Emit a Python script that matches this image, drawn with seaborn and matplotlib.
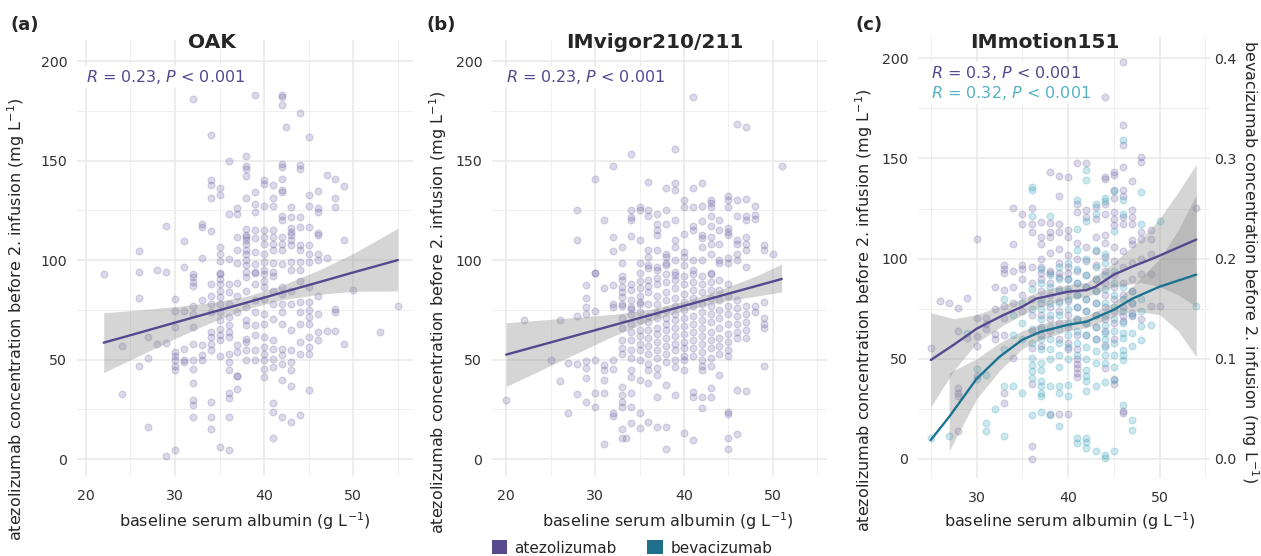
import pandas as pd
import matplotlib
matplotlib.use("Agg")
import matplotlib.pyplot as plt
import seaborn as sns
from matplotlib.patches import Patch

# ---------------- data ----------------
# albumin (g/L) -> atezolizumab trough concentrations (mg/L)
oak_points = {
    22: [93], 24: [56.7, 32.7], 26: [104.5, 94, 81, 47], 27: [61.3, 51, 16],
    28: [95, 57.7], 29: [117, 94, 58.3, 1.3],
    30: [80.5, 74.3, 66.3, 53.8, 51.7, 49.7, 47, 44.7, 4.7],
    31: [109.5, 96.7, 74.3, 55.5, 50, 49],
    32: [181, 93, 91.3, 88.8, 87, 76.7, 73, 66.3, 57.7, 50, 45.5, 38.3, 29.7, 27.2, 21],
    33: [118, 116.7, 100.8, 79.7, 57.2, 52.2, 49.7],
    34: [163, 140, 137.5, 131, 114.5, 88, 82.2, 78, 73.8, 63.8, 61.3, 58, 54.7, 28.8, 21, 15],
    35: [136, 132.5, 106.7, 103, 99.5, 93.7, 93, 90.5, 88, 84.7, 81.3, 78, 73.8, 69.7,
         65.5, 62.2, 59.7, 51.7, 6.3],
    36: [150, 123, 100.5, 88, 83.8, 78, 71.3, 67.2, 63.8, 61.3, 53, 48.8, 44.7, 33, 30.5, 21, 4.7],
    37: [126, 123, 111.7, 105, 98.7, 88.3, 82.2, 73.8, 57.2, 53.8, 42, 41.7, 35],
    38: [152.5, 147.5, 146, 142.5, 131, 115.8, 112.5, 111.7, 110, 108.3, 105, 103.3, 100,
         97.5, 94, 91.3, 84.7, 76.3, 69.7, 67.2, 60.5, 58.8, 54.7, 49.7],
    39: [183, 134, 128, 124, 115, 111, 104, 98, 94, 93.3, 88, 79.7, 73.8, 67.2, 62.2, 54.7, 49.7],
    40: [140, 138, 127, 115, 111.7, 108.3, 103.3, 99, 95, 93, 89.7, 86.3, 80.5, 73, 68,
         61.3, 56.3, 53, 49.7, 45.5, 41.3],
    41: [137.5, 131, 127, 115, 111.7, 108.3, 105, 98.3, 94, 92.2, 84.7, 78, 70.5, 59.7,
         55.5, 50.5, 46.3, 28.3, 23.8, 10.5],
    42: [183, 182, 178, 148.3, 146.7, 141, 135, 134, 122, 120, 111.7, 108, 105, 98, 86.3,
         83, 78, 73.8, 68, 55.5, 52.2, 48, 39.7, 21.3],
    42.5: [166.7],
    43: [126.7, 121.7, 116, 114, 112.5, 110, 107.5, 99, 95, 84.7, 78, 64.7, 54.7, 48.8,
         44.7, 36.7, 18.8],
    44: [174, 148, 146, 121.7, 116.7, 107.5, 105, 99, 95, 89.7, 78.8, 73.8, 68, 58.8, 53, 22.2],
    45: [162, 132.5, 127, 116.7, 107.5, 103, 99, 86.3, 78.8, 74.7, 71.3, 68, 61.3, 56.3, 52.7, 34.7],
    46: [134.5, 126, 124, 113.7, 112.5, 103, 100, 82.2, 73, 63.8, 59.7],
    47: [143, 101, 64.3], 48: [140.5, 131, 126.7, 75.5, 73.8, 64.3], 49: [137, 110, 58],
    50: [85], 53: [63.7], 55: [77],
}

imvigor_points = {
    20: [29.7], 22: [70], 25: [50], 26: [70, 39.3], 27: [48.3, 23.3],
    28: [125.3, 110.3, 71.7, 47.7, 32.7], 29: [87.7, 81, 76.3, 73, 49.3, 46, 40.5, 28.8],
    30: [141, 93.7, 93.3, 74.3, 50, 33, 26], 31: [120.3, 86, 47.2, 44.7, 39.7, 33.3, 7.7],
    32: [147.5, 111.7, 104.5, 87.7, 78, 76.3, 50, 45.5, 23, 21.7],
    33: [106.7, 98.3, 92.2, 90, 86.7, 84, 81.3, 78, 77, 71, 66, 60, 56, 53, 36.3, 32.2,
         28.8, 26, 15, 10.5],
    33.5: [10.5],
    34: [153.3, 125.3, 121.7, 120.3, 112, 88, 85, 80, 76.3, 75.5, 73, 68, 64, 60, 55, 51,
         44.7, 41.3, 33.3, 26.3, 18.3],
    35: [126.7, 125.3, 110.3, 98.7, 93.7, 89.7, 86, 82.2, 79, 78, 74, 70, 65, 62, 58, 55,
         50, 39.7, 23.3, 15.5],
    36: [139, 125.3, 122, 105, 101.7, 97.5, 95.8, 90, 87.2, 84, 78, 72, 69, 65, 61, 57,
         53, 48, 44.7, 38.3, 18.8],
    37: [123.3, 118.3, 115, 112.5, 105, 96.7, 95, 91, 88, 82, 78, 74, 71, 66, 63, 59, 55,
         51, 46, 42.2, 31.3, 16.3],
    38: [136, 125.3, 118.3, 103.3, 101.7, 98.7, 97.5, 93, 89, 84, 80, 75, 71, 68, 65, 61,
         57, 53, 49, 37.2, 16.3, 5],
    39: [156, 138.7, 135.3, 120.3, 110, 106.7, 100, 94, 92.5, 90, 86, 81, 77, 73, 70, 66,
         62, 58, 55, 50, 46.3, 32.2],
    40: [130.3, 126.7, 113.3, 104, 101.7, 97.5, 92, 88, 83, 79, 75, 71, 67, 63, 59, 56,
         52, 49.7, 44.7, 13],
    41: [182, 136, 126.7, 117, 115.3, 100, 95, 93, 89, 85, 81, 77, 72, 68, 64, 60, 56, 52,
         33.8, 31.3, 9.7],
    42: [138.7, 127, 119.7, 112.5, 111, 106.7, 100, 92, 88, 84, 78, 74, 70, 66, 62, 58,
         54, 50, 47, 44.7, 31.3, 25.5],
    43: [130.3, 128.7, 126.7, 122, 117, 111.7, 108.3, 103.3, 93.3, 93, 89, 85, 81, 77, 73,
         69, 64, 60, 56, 51, 47, 35.5, 31.3],
    44: [120.3, 115, 108.3, 100, 98.3, 90, 85, 80, 75, 71, 66, 61, 57, 53, 42.2],
    45: [132, 130.3, 126.7, 116, 114, 112.5, 100.8, 98.3, 88, 82, 77, 73, 68, 63, 59, 55,
         51.7, 23.8, 22.7, 10.5, 5],
    46: [168.3, 130.3, 122, 110, 108.3, 103.3, 100, 80, 76, 72, 68, 64, 61, 34.7, 12.7],
    47: [167, 130.8, 122, 120.3, 111.7, 108.3, 105, 96.7, 77, 73, 69, 65, 61, 34.3],
    48: [127, 122.5, 120.8, 77, 74], 49: [107.5, 105, 79, 71, 68, 66, 46.7],
    50: [103.3], 51: [147.5],
}

immotion_atezo_points = {
    25: [55.5], 26: [78.8], 27: [78], 28: [75.5, 63.8, 35.5, 33, 31.3, 13.8], 29: [80.5, 60.5],
    30: [110, 70.5, 61.3, 56.3, 41.3], 31: [70.5, 67.2, 64.7], 32: [86, 75, 62.2, 59.7],
    33: [96.7, 95, 92.7, 84.3, 76.3, 70.5, 61.7, 33, 27.7], 34: [125.5, 107.5, 94, 86, 78, 50.5],
    35: [122.2, 117.5, 96.7, 95, 90, 82, 74],
    36: [125.5, 117.5, 113.3, 96, 88, 80, 72, 64, 55.5, 37.2, 6.3, 0],
    37: [118.3, 110.8, 107.5, 100, 96, 92.7, 90, 84, 78, 72, 66, 62, 56.3],
    38: [143.3, 118, 113.3, 110.8, 103, 94, 92.7, 88, 82, 76, 70, 64, 22.2],
    39: [141.2, 131.2, 117.5, 113.3, 105, 98, 92.7, 91, 85, 79, 74, 68, 60, 22.2],
    40: [140.5, 114.2, 110.8, 102, 96, 92.7, 90, 84, 79, 72, 66, 58, 54.7, 22.2],
    41: [147.8, 127.5, 123.3, 108, 100, 94, 88, 82, 76, 70, 62, 55, 49.7, 47.2, 45.5, 43, 41],
    42: [147.8, 124.2, 120.8, 106, 99, 92, 86, 80, 74, 68, 62],
    43: [125.8, 120, 110.8, 104, 97, 90, 84, 78, 72, 66, 60],
    44: [180.8, 140.8, 139.5, 127.2, 122.5, 111.7, 108, 101, 94, 88, 82, 76, 70, 64, 57, 45.5],
    45: [143.3, 141.7, 134.2, 130, 123.3, 120, 116.7, 106, 99, 92, 86, 80, 74, 68, 60, 40, 37.2],
    46: [198.3, 166.7, 156.7, 145.8, 134.2, 131.2, 120.8, 117.5, 104, 96, 88, 82, 76, 71.3,
         68.8, 23.8, 23],
    47: [138.8, 124.2, 120.8, 117.5, 109.2, 107.5, 98, 90, 84, 78, 73, 71.3],
    48: [150.5, 148.3, 113.3, 110, 99.7, 92.2, 69.7], 49: [114.2, 110, 102.2, 92.2, 76.3],
    50: [76.3], 54: [125.5],
}

# albumin (g/L) -> bevacizumab trough concentrations (mg/L, right axis)
immotion_bev_points = {
    25: [0.021], 27: [0.023], 29: [0.126], 30: [0.090, 0.080], 31: [0.084, 0.036, 0.028],
    32: [0.050], 33: [0.160, 0.110, 0.073, 0.023], 34: [0.144, 0.124, 0.073],
    35: [0.156, 0.136, 0.120, 0.066],
    36: [0.271, 0.268, 0.243, 0.170, 0.150, 0.130, 0.116, 0.101, 0.094, 0.088, 0.081, 0.044],
    37: [0.190, 0.176, 0.160, 0.150, 0.140, 0.130, 0.120, 0.110, 0.096, 0.089, 0.078, 0.073,
         0.066, 0.063, 0.047],
    38: [0.243, 0.184, 0.172, 0.156, 0.144, 0.132, 0.120, 0.110, 0.100, 0.073, 0.044],
    39: [0.192, 0.180, 0.168, 0.156, 0.144, 0.130, 0.116, 0.104, 0.092, 0.073, 0.066, 0.033],
    40: [0.196, 0.180, 0.170, 0.160, 0.150, 0.136, 0.124, 0.112, 0.100, 0.074, 0.063],
    41: [0.258, 0.230, 0.209, 0.190, 0.176, 0.164, 0.152, 0.140, 0.128, 0.116, 0.104, 0.021, 0.016],
    42: [0.288, 0.278, 0.238, 0.200, 0.184, 0.172, 0.160, 0.148, 0.136, 0.124, 0.112, 0.100,
         0.089, 0.083, 0.078, 0.068, 0.021, 0.017, 0.011],
    43: [0.255, 0.245, 0.209, 0.192, 0.180, 0.168, 0.156, 0.144, 0.132, 0.120, 0.108, 0.096,
         0.073, 0.008],
    44: [0.260, 0.257, 0.205, 0.196, 0.184, 0.170, 0.156, 0.144, 0.134, 0.126, 0.120, 0.112,
         0.104, 0.096, 0.077, 0.004, 0.001],
    45: [0.267, 0.228, 0.188, 0.176, 0.164, 0.152, 0.140, 0.128, 0.116, 0.104, 0.092, 0.079, 0.008],
    46: [0.318, 0.258, 0.245, 0.172, 0.160, 0.148, 0.136, 0.126, 0.121, 0.109, 0.104, 0.099, 0.054],
    47: [0.168, 0.156, 0.144, 0.126, 0.113, 0.039, 0.029],
    48: [0.266, 0.235, 0.160, 0.148, 0.133, 0.119], 49: [0.134], 50: [0.238], 54: [0.153],
}

# fitted trends and 95% bands
oak_fit_x = [22, 26, 30, 34, 38, 42, 46, 50, 55]
oak_fit_y = [58.5, 63.5, 68.6, 73.6, 78.6, 83.7, 88.7, 93.8, 100.0]
oak_fit_lo = [43.5, 52, 60.6, 68.6, 75.4, 80.1, 82.7, 84.3, 84.5]
oak_fit_hi = [73.5, 75, 76.6, 78.6, 81.8, 87.3, 94.7, 103.3, 116]

imvigor_fit_x = [20, 24, 28, 32, 36, 40, 44, 48, 51]
imvigor_fit_y = [52.5, 57.4, 62.3, 67.2, 72.1, 77.0, 81.9, 86.8, 90.5]
imvigor_fit_lo = [36.5, 44.9, 53.3, 61.7, 69.1, 74.7, 78.9, 81.8, 84.0]
imvigor_fit_hi = [68.5, 69.9, 71.3, 72.7, 75.1, 79.3, 84.9, 91.8, 98.0]

atezo_fit_x = [25, 27.5, 30, 33, 35, 36.5, 40, 42, 43, 45, 47, 49.5, 54]
atezo_fit_y = [49.4, 57, 65, 72, 76, 80, 83.5, 84.3, 86, 92, 96, 100.5, 109.5]
atezo_band_x = [25, 27.5, 30, 33, 35, 37, 40, 42, 45, 48, 50, 52, 54]
atezo_band_lo = [26, 44, 58, 67, 72, 76, 80, 81, 86, 88, 86, 82, 76]
atezo_band_hi = [73, 70, 72, 77, 80, 84, 87, 88, 98, 110, 120, 133, 147]

bev_fit_x = [25, 27, 30, 32.5, 35, 37, 40, 42, 45, 47, 50, 54]
bev_fit_y = [0.019, 0.042, 0.080, 0.102, 0.119, 0.127, 0.134, 0.137, 0.149, 0.160, 0.172, 0.184]
bev_band_x = [27, 30, 32.5, 35, 37, 40, 42, 45, 47, 50, 52, 54]
bev_band_lo = [0.008, 0.060, 0.088, 0.110, 0.119, 0.128, 0.131, 0.142, 0.148, 0.144, 0.128, 0.102]
bev_band_hi = [0.086, 0.100, 0.116, 0.128, 0.135, 0.140, 0.143, 0.156, 0.172, 0.200, 0.228, 0.264]

bev_scale = 500  # right axis = left axis / 500

PURPLE = "#56488f"
PURPLE_PT = "#5e4f9a"
TEAL_LINE = "#1b7391"
TEAL_PT = "#3aa5bc"
TEAL_TXT = "#55b2c2"


def to_frame(points):
    rows = [(alb, c) for alb, vals in points.items() for c in vals]
    return pd.DataFrame(rows, columns=["albumin", "conc"])


sns.set_theme(style="white")
plt.rcParams["font.family"] = ["DejaVu Sans"]

W, H = 1261, 556
fig = plt.figure(figsize=(W / 100, H / 100), dpi=100)


def add_ax(left, right, top, bottom):
    return fig.add_axes([left / W, 1 - bottom / H, (right - left) / W, (bottom - top) / H])


def style(ax, xlim, ylim, xticks):
    ax.set_xlim(*xlim)
    ax.set_ylim(*ylim)
    ax.set_xticks(xticks)
    ax.set_xticks([25, 35, 45, 55], minor=True)
    ax.set_yticks([0, 50, 100, 150, 200])
    ax.set_yticks([25, 75, 125, 175], minor=True)
    ax.grid(which="major", color="#e8e8e8", lw=1.1)
    ax.grid(which="minor", color="#efefef", lw=0.7)
    ax.set_axisbelow(True)
    ax.tick_params(which="both", length=0, labelsize=10.2, colors="#333333")
    ax.tick_params(axis="x", pad=9)
    ax.tick_params(axis="y", pad=7)
    for s in ax.spines.values():
        s.set_visible(False)
    ax.set_xlabel(r"baseline serum albumin (g L$^{-1}$)", fontsize=11.5)
    ax.set_ylabel(r"atezolizumab concentration before 2. infusion (mg L$^{-1}$)", fontsize=11.5)


def scatter(ax, df, color, alpha):
    sns.scatterplot(data=df, x="albumin", y="conc", ax=ax, color=color, edgecolor=color,
                    alpha=alpha, s=24, linewidth=0.9, zorder=2, legend=False)


def trend(ax, bx, lo, hi, fx, fy, color):
    ax.fill_between(bx, lo, hi, color="#8c8c8c", alpha=0.36, lw=0, zorder=3)
    sns.lineplot(x=fx, y=fy, ax=ax, color=color, lw=1.7, zorder=4)


def stat_label(ax, x, y, txt, color):
    ax.text(x, y, txt, color=color, fontsize=11.5, va="center", ha="left", zorder=5,
            bbox=dict(facecolor="white", edgecolor="none", pad=1.5))


# ---- (a) OAK ----
ax_a = add_ax(77, 413, 40, 476)
scatter(ax_a, to_frame(oak_points), PURPLE_PT, 0.21)
trend(ax_a, oak_fit_x, oak_fit_lo, oak_fit_hi, oak_fit_x, oak_fit_y, PURPLE)
style(ax_a, (19.0, 56.7), (-8.5, 210.6), [20, 30, 40, 50])
stat_label(ax_a, 20, 192, r"$\it{R}$ = 0.23, $\it{P}$ < 0.001", PURPLE)
ax_a.yaxis.set_label_coords(-0.148, 0.36)
ax_a.xaxis.set_label_coords(0.5, -0.078)

# ---- (b) IMvigor210/211 ----
ax_b = add_ax(492, 827, 40, 476)
scatter(ax_b, to_frame(imvigor_points), PURPLE_PT, 0.21)
trend(ax_b, imvigor_fit_x, imvigor_fit_lo, imvigor_fit_hi, imvigor_fit_x, imvigor_fit_y, PURPLE)
style(ax_b, (18.4, 56.1), (-8.5, 210.6), [20, 30, 40, 50])
stat_label(ax_b, 20, 192, r"$\it{R}$ = 0.23, $\it{P}$ < 0.001", PURPLE)
ax_b.yaxis.set_label_coords(-0.128, 0.375)
ax_b.xaxis.set_label_coords(0.526, -0.078)

# ---- (c) IMmotion151 ----
ax_c = add_ax(918, 1210, 37, 478)
scatter(ax_c, to_frame(immotion_atezo_points), PURPLE_PT, 0.21)
bev_df = to_frame(immotion_bev_points)
bev_df["conc"] = bev_df["conc"] * bev_scale
scatter(ax_c, bev_df, TEAL_PT, 0.26)
trend(ax_c, atezo_band_x, atezo_band_lo, atezo_band_hi, atezo_fit_x, atezo_fit_y, PURPLE)
trend(ax_c, bev_band_x, [v * bev_scale for v in bev_band_lo], [v * bev_scale for v in bev_band_hi],
      bev_fit_x, [v * bev_scale for v in bev_fit_y], TEAL_LINE)
style(ax_c, (23.6, 55.5), (-9.5, 210.6), [30, 40, 50])
stat_label(ax_c, 25, 192.5, r"$\it{R}$ = 0.3, $\it{P}$ < 0.001", PURPLE)
stat_label(ax_c, 25, 182.5, r"$\it{R}$ = 0.32, $\it{P}$ < 0.001", TEAL_TXT)
ax_c.yaxis.set_label_coords(-0.147, 0.38)
ax_c.xaxis.set_label_coords(0.52, -0.073)

sec = ax_c.secondary_yaxis("right", functions=(lambda y: y / bev_scale, lambda y: y * bev_scale))
sec.set_yticks([0.0, 0.1, 0.2, 0.3, 0.4])
sec.set_yticklabels(["0.0", "0.1", "0.2", "0.3", "0.4"])
sec.tick_params(length=0, labelsize=10.2, colors="#333333", pad=3)
for s in sec.spines.values():
    s.set_visible(False)
sec.set_ylabel(r"bevacizumab concentration before 2. infusion (mg L$^{-1}$)", fontsize=11.5,
               rotation=270)
sec.yaxis.label.set_rotation_mode("default")
sec.yaxis.label.set_ha("center")
sec.yaxis.label.set_va("center")
sec.yaxis.set_label_coords(1.137, 0.49, transform=ax_c.transAxes)

# titles and panel letters
for x, t in [(212, "OAK"), (655, "IMvigor210/211"), (1045, "IMmotion151")]:
    fig.text(x / W, 1 - 42 / H, t, fontsize=14.5, fontweight="bold", ha="center", va="center")
for x, t in [(25, "(a)"), (441, "(b)"), (869, "(c)")]:
    fig.text(x / W, 1 - 25 / H, t, fontsize=13, fontweight="bold", ha="center", va="center")

# legend
handles = [Patch(facecolor="#574a8f", edgecolor="none", label="atezolizumab"),
           Patch(facecolor="#1f6f8b", edgecolor="none", label="bevacizumab")]
fig.legend(handles=handles, loc="center", bbox_to_anchor=(632 / W, 1 - 548 / H), ncol=2,
           frameon=False, fontsize=11, handlelength=1.0, handleheight=1.0,
           handletextpad=0.5, columnspacing=2.0, borderaxespad=0)

fig.savefig("out.png", dpi=100)
